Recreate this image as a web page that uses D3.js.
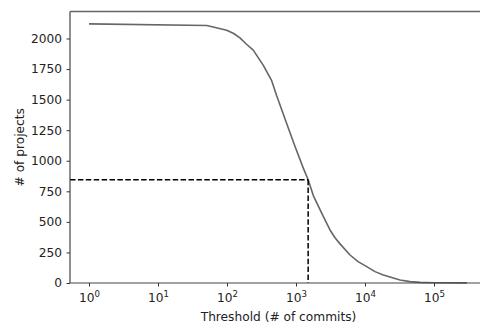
<!DOCTYPE html>
<html>
<head>
<meta charset="utf-8">
<script src="https://cdn.jsdelivr.net/npm/d3@7"></script>
<style>
  html, body { margin: 0; padding: 0; background: #fff; }
  svg { display: block; font-family: "DejaVu Sans", sans-serif; }
</style>
</head>
<body>
<svg id="chart" width="480" height="327"></svg>
<script>
// Number of projects remaining above each commit-count threshold
const thresholds = [1, 51, 99, 125, 154, 190, 240, 336, 444, 525, 621, 773, 968, 1276, 1500, 1782, 2228, 2630, 3110, 3675, 4345, 6065, 7925, 10590, 13960, 18420, 24370, 32150, 44870, 62650, 100000, 300000];
const projectCounts = [2120, 2106, 2068, 2041, 2005, 1955, 1905, 1780, 1655, 1532, 1418, 1268, 1117, 940, 845, 715, 600, 516, 434, 370, 320, 229, 175, 134, 93, 66, 45, 25, 11, 5, 2, 1];

// Marked cut-off
const cutoffThreshold = [1500];
const cutoffCount = [845];

const xTickExponents = [0, 1, 2, 3, 4, 5];
const yTickValues = [0, 250, 500, 750, 1000, 1250, 1500, 1750, 2000];

const svg = d3.select("#chart");
const plotLeft = 70, plotRight = 487, plotTop = 11.5, plotBottom = 283;
const fontSize = 12.2;

const x = d3.scaleLog()
  .domain([Math.pow(10, -0.2754), Math.pow(10, 5.768)])
  .range([plotLeft, plotRight]);
const y = d3.scaleLinear()
  .domain([0, 2221])
  .range([plotBottom, plotTop]);

const data = thresholds.map((t, i) => ({ t, n: projectCounts[i] }));

// Curve
svg.append("path")
  .datum(data)
  .attr("fill", "none")
  .attr("stroke", "#666666")
  .attr("stroke-width", 1.6)
  .attr("stroke-linejoin", "round")
  .attr("d", d3.line().x(d => x(d.t)).y(d => y(d.n)));

// Dashed guide lines to the cut-off point
const cx = x(cutoffThreshold[0]), cy = y(cutoffCount[0]);
svg.append("line")
  .attr("x1", plotLeft).attr("x2", cx).attr("y1", cy).attr("y2", cy)
  .attr("stroke", "#000").attr("stroke-width", 1.5)
  .attr("stroke-dasharray", "5.5,2.4");
svg.append("line")
  .attr("x1", cx).attr("x2", cx).attr("y1", cy).attr("y2", plotBottom)
  .attr("stroke", "#000").attr("stroke-width", 1.5)
  .attr("stroke-dasharray", "5.5,2.4");

// Y axis
const yAxis = svg.append("g")
  .attr("transform", `translate(${plotLeft},0)`)
  .call(d3.axisLeft(y).tickValues(yTickValues).tickSize(3.5).tickPadding(4.5).tickFormat(d3.format("d")));
yAxis.select(".domain").remove();
yAxis.selectAll("text").attr("font-size", fontSize).attr("fill", "#222").attr("font-family", "DejaVu Sans");
yAxis.selectAll("line").attr("stroke", "#333");

// X axis
const xAxis = svg.append("g")
  .attr("transform", `translate(0,${plotBottom})`)
  .call(d3.axisBottom(x).tickValues(xTickExponents.map(e => Math.pow(10, e))).tickSize(3.5).tickFormat(""));
xAxis.select(".domain").remove();
xAxis.selectAll("line").attr("stroke", "#333");
xAxis.selectAll(".tick").each(function (d, i) {
  const t = d3.select(this).append("text")
    .attr("y", 19.3)
    .attr("text-anchor", "middle")
    .attr("font-size", fontSize)
    .attr("fill", "#222")
    .attr("font-family", "DejaVu Sans");
  t.append("tspan").text("10");
  t.append("tspan").attr("dy", -5).attr("font-size", 8.6).text(String(xTickExponents[i]));
});

// Spines: left, bottom, top
svg.append("line").attr("x1", plotLeft).attr("x2", plotLeft).attr("y1", plotTop).attr("y2", plotBottom)
  .attr("stroke", "#444").attr("stroke-width", 1.2);
svg.append("line").attr("x1", plotLeft).attr("x2", plotRight).attr("y1", plotBottom).attr("y2", plotBottom)
  .attr("stroke", "#444").attr("stroke-width", 1.2);
svg.append("line").attr("x1", plotLeft).attr("x2", plotRight).attr("y1", plotTop).attr("y2", plotTop)
  .attr("stroke", "#666").attr("stroke-width", 1.4);

// Axis titles
svg.append("text")
  .attr("x", (plotLeft + plotRight) / 2).attr("y", 320.5)
  .attr("text-anchor", "middle").attr("font-size", fontSize).attr("fill", "#222")
  .text("Threshold (# of commits)");
svg.append("text")
  .attr("transform", `translate(23.5,${(plotTop + plotBottom) / 2}) rotate(-90)`)
  .attr("text-anchor", "middle").attr("font-size", fontSize).attr("fill", "#222")
  .text("# of projects");
</script>
</body>
</html>
